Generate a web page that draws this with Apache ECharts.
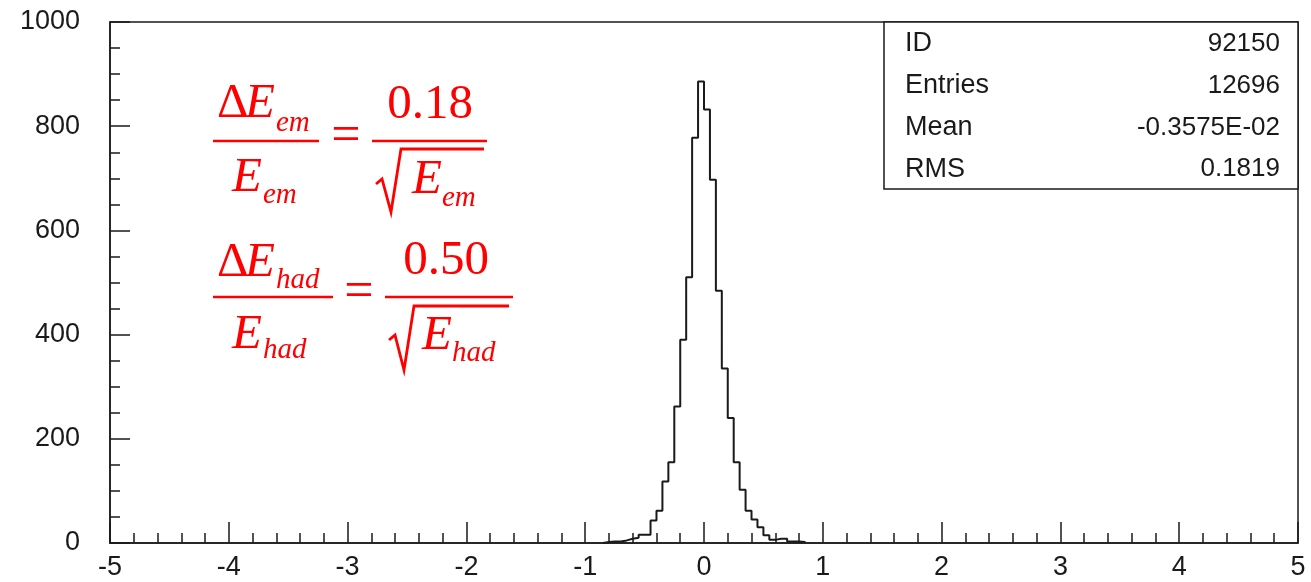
<!DOCTYPE html>
<html>
<head>
<meta charset="utf-8">
<script src="https://cdn.jsdelivr.net/npm/echarts@6/dist/echarts.min.js"></script>
<style>
html,body{margin:0;padding:0;background:#fff;}
#chart{width:1311px;height:582px;}
</style>
</head>
<body>
<div id="chart"></div>
<script>
// Histogram bin edges (lower edge of each bin, plus final upper edge)
const binEdges = [-0.85,-0.80,-0.75,-0.70,-0.65,-0.60,-0.55,-0.50,-0.45,-0.40,-0.35,-0.30,-0.25,-0.20,-0.15,-0.10,-0.05,
                  0.00,0.05,0.10,0.15,0.20,0.25,0.30,0.35,0.40,0.45,0.50,0.55,0.60,0.65,0.70,0.75,0.80,0.85];
// Counts per bin (one fewer than edges)
const binCounts = [2,3,3,5,8,10,16,16,43,62,118,155,262,390,510,778,886,
                   832,697,484,335,240,155,102,62,45,30,15,6,8,8,3,3,2];
// Axis tick settings
const xTickValues = [-5,-4,-3,-2,-1,0,1,2,3,4,5];
const yTickValues = [0,200,400,600,800,1000];
// Statistics box
const statLabels = ['ID','Entries','Mean','RMS'];
const statValues = ['92150','12696','-0.3575E-02','0.1819'];

const INK = '#1a1a1a';
const RED = '#ff0000';

// Build step points for the histogram outline
const stepData = [[binEdges[0], 0]];
for (let i = 0; i < binCounts.length; i++) stepData.push([binEdges[i], binCounts[i]]);
stepData.push([binEdges[binEdges.length-1], binCounts[binCounts.length-1]]);
stepData.push([binEdges[binEdges.length-1], 0]);

const chart = echarts.init(document.getElementById('chart'), null, {renderer:'canvas'});

const SERIF = '"Liberation Serif","Times New Roman",serif';
const SANS = '"Liberation Sans", Arial, sans-serif';
function t(text, x, baseline, size, italic, align) {
  return {
    type:'text', silent:true,
    style:{
      text:text, x:x, y:baseline - 0.34*size,
      font:(italic?'italic ':'') + size + 'px ' + SERIF,
      fill:RED, align:align||'left', verticalAlign:'middle'
    }
  };
}
function ln(x1,y1,x2,y2,w) {
  return {type:'line', silent:true, shape:{x1:x1,y1:y1,x2:x2,y2:y2}, style:{stroke:RED, lineWidth:w||2.5}};
}
function pl(points,w) {
  return {type:'polyline', silent:true, shape:{points:points}, style:{stroke:RED, lineWidth:w||2.5, fill:null, lineJoin:'miter'}};
}

const BIG = 49, SUB = 29;
const graphics = [
  // Formula 1
  t('\u0394', 217, 121, BIG, false),
  t('E', 245, 121, BIG, true),
  t('em', 276, 133, SUB, true),
  ln(213,141,319,141),
  t('=', 346, 155, 52, false, 'center'),
  t('0.18', 430, 122, BIG, false, 'center'),
  ln(372,141,487,141),
  pl([[376,184],[382,179],[391,212],[401,149],[484,149]], 2.8),
  t('E', 412, 197, BIG, true),
  t('em', 442, 208, SUB, true),
  t('E', 232, 195, BIG, true),
  t('em', 263, 205, SUB, true),
  // Formula 2
  t('\u0394', 217, 280, BIG, false),
  t('E', 245, 280, BIG, true),
  t('had', 276, 290, SUB, true),
  ln(213,297,333,297),
  t('=', 359, 311, 52, false, 'center'),
  t('0.50', 446, 278, BIG, false, 'center'),
  ln(385,297,513,297),
  pl([[389,340],[395,335],[404,370],[414,306],[509,306]], 2.8),
  t('E', 422, 353, BIG, true),
  t('had', 452, 363, SUB, true),
  t('E', 232, 352, BIG, true),
  t('had', 263, 360, SUB, true),
  // Statistics box
  {type:'rect', silent:true, shape:{x:884, y:22, width:414, height:167}, style:{fill:'#fff', stroke:INK, lineWidth:1.5}, z:10}
];
statLabels.forEach((lab, i) => {
  const cy = 44 + i*41.7;
  graphics.push({type:'text', silent:true, z:11, style:{text:lab, x:905, y:cy, font:'27px ' + SANS, fill:INK, align:'left', verticalAlign:'middle'}});
  graphics.push({type:'text', silent:true, z:11, style:{text:statValues[i], x:1280, y:cy, font:'26px ' + SANS, fill:INK, align:'right', verticalAlign:'middle'}});
});

const option = {
  animation:false,
  backgroundColor:'#fff',
  grid:{left:110, right:13, top:22, bottom:39, show:true, borderColor:INK, borderWidth:1.5, backgroundColor:'transparent'},
  xAxis:{
    type:'value', min:xTickValues[0], max:xTickValues[xTickValues.length-1], interval:1,
    axisLine:{show:true, onZero:false, lineStyle:{color:INK, width:1.5}},
    axisTick:{show:true, inside:true, length:21, lineStyle:{color:INK, width:1.5}},
    minorTick:{show:true, splitNumber:5, length:10, lineStyle:{color:INK, width:1.5}},
    splitLine:{show:false},
    axisLabel:{color:INK, fontSize:27, fontFamily:SANS, margin:11,
      formatter:v => String(v)}
  },
  yAxis:{
    type:'value', min:yTickValues[0], max:yTickValues[yTickValues.length-1], interval:200,
    axisLine:{show:true, onZero:false, lineStyle:{color:INK, width:1.5}},
    axisTick:{show:true, inside:true, length:20, lineStyle:{color:INK, width:1.5}},
    minorTick:{show:true, splitNumber:4, length:10, lineStyle:{color:INK, width:1.5}},
    splitLine:{show:false},
    axisLabel:{color:INK, fontSize:27, fontFamily:SANS, margin:30,
      formatter:v => String(v)}
  },
  series:[{
    type:'line', step:'end', data:stepData, showSymbol:false, symbol:'none',
    lineStyle:{color:INK, width:2}, clip:true, silent:true
  }],
  graphic:graphics
};
chart.setOption(option);
</script>
</body>
</html>
